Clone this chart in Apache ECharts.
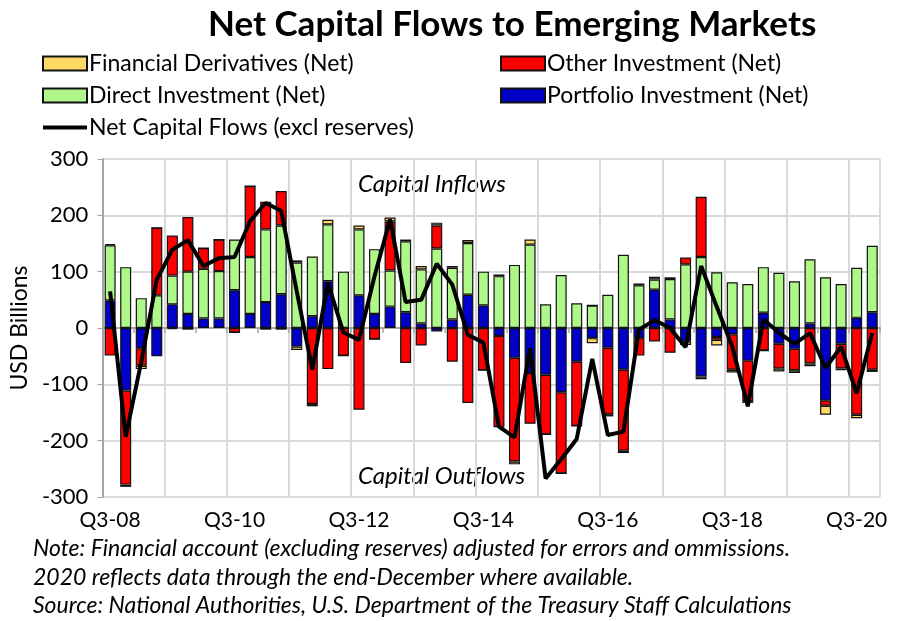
<!DOCTYPE html>
<html>
<head>
<meta charset="utf-8">
<script src="https://cdn.jsdelivr.net/npm/echarts@6/dist/echarts.min.js"></script>
<style>
  html, body { margin: 0; padding: 0; background: #fff; }
  #chart { width: 897px; height: 621px; }
</style>
</head>
<body>
<div id="chart"></div>
<script>
// quarters Q3-08 .. Q4-20
const quarters = []
for (let y = 8; y <= 20; y++) {
  for (let q = 1; q <= 4; q++) {
    if (y === 8 && q < 3) continue
    quarters.push('Q' + q + '-' + String(y).padStart(2, '0'))
  }
}

// USD billions
const portfolio = [49, -111, -36, -50, 42, 25, 17, 17, 67, 25, 46, 60, -33, 21, 83, 0, 58, 25, 38, 28,
  8, -6, 15, 59, 40, -14, -53, -80, -83, -114, -60, -18, -35, -74, -18, 68, 15, -24, -86, -16,
  -11, -58, 27, -28, -37, 8, -129, -28, 18, 28]
const direct = [98, 108, 53, 58, 51, 75, 88, 84, 90, 101, 129, 122, 116, 106, 101, 100, 117, 115, 64, 126,
  96, 141, 92, 92, 60, 92, 112, 148, 42, 94, 44, 40, 59, 130, 76, 18, 72, 113, 126, 99,
  81, 78, 81, 98, 83, 114, 90, 78, 89, 118]
const other = [-49, -167, -31, 120, 71, 97, 37, 56, -8, 126, 49, 61, 4, -135, -73, -49, -145, -20, 87, -62,
  -31, 41, -60, -133, -75, -162, -184, -90, -106, -144, -114, 0, -118, -144, -31, -24, -44, 12, 107, -5,
  -63, -72, -40, -44, -38, -63, -9, -44, -154, -74]
const derivatives = [2, -4, -6, 0, -2, -3, 0, 0, 0, 0, -3, -3, -6, -4, 8, 0, 7, 0, 7, 3,
  6, 5, 3, 5, 0, 3, -5, 9, 0, 0, 0, -9, -4, -4, 3, 5, 3, -6, -5, -10,
  -5, -3, 0, -5, -5, -5, -16, -3, -6, -4]
const netFlows = [65, -193, -60, 86, 139, 156, 110, 124, 126, 190, 222, 208, 65, -74, 80, -8, -21, 92, 193, 46,
  50, 114, 77, -12, -26, -175, -194, -36, -267, -233, -197, -55, -190, -184, -3, 14, 0, -34, 110, 38,
  -33, -139, 15, -8, -28, -9, -71, -33, -116, -9]
const yTicks = [-300, -200, -100, 0, 100, 200, 300]

const font = 'Lato, "Noto Sans", sans-serif'
const barBorder = { borderColor: '#111', borderWidth: 1.2 }

function barSeries(name, data, color) {
  return {
    name: name,
    type: 'bar',
    stack: 'total',
    data: data,
    barWidth: 11,
    itemStyle: Object.assign({ color: color }, barBorder)
  }
}

const legendText = { fontFamily: font, fontSize: 23, color: '#000', padding: [0, 0, 0, -3] }

const chart = echarts.init(document.getElementById('chart'))
chart.setOption({
  animation: false,
  textStyle: { fontFamily: font },
  title: {
    text: 'Net Capital Flows to Emerging Markets',
    left: 203,
    top: 2,
    textStyle: { fontFamily: font, fontSize: 35, fontWeight: 'bold', color: '#000' }
  },
  legend: [
    {
      orient: 'vertical',
      left: 36,
      top: 47,
      itemWidth: 44,
      itemHeight: 14,
      itemGap: 9,
      data: [
        { name: 'Financial Derivatives (Net)', icon: 'rect' },
        { name: 'Direct Investment (Net)', icon: 'rect' },
        { name: 'Net Capital Flows (excl reserves)', itemStyle: { opacity: 0 }, lineStyle: { width: 4, color: '#000' } }
      ],
      textStyle: legendText
    },
    {
      orient: 'vertical',
      left: 495,
      top: 47,
      itemWidth: 44,
      itemHeight: 14,
      itemGap: 9,
      data: [
        { name: 'Other Investment (Net)', icon: 'rect' },
        { name: 'Portfolio Investment (Net)', icon: 'rect' }
      ],
      textStyle: legendText
    }
  ],
  grid: { left: 101, right: 17, top: 159, bottom: 124 },
  xAxis: [
    {
      type: 'category',
      data: quarters,
      position: 'bottom',
      axisLine: { show: false, onZero: false },
      axisTick: { show: false },
      axisLabel: { interval: 7, margin: 13, fontSize: 21, color: '#000', fontFamily: font },
      splitLine: { show: true, interval: 3, lineStyle: { color: '#d9d9d9', width: 2 } }
    },
    {
      type: 'category',
      data: quarters,
      position: 'top',
      axisLine: { show: true, onZero: true, lineStyle: { color: '#a6a6a6', width: 2 } },
      axisTick: { show: true, inside: true, interval: 1, length: 5, lineStyle: { color: '#a6a6a6', width: 1.5 } },
      axisLabel: { show: false },
      splitLine: { show: false }
    }
  ],
  yAxis: {
    type: 'value',
    min: yTicks[0],
    max: yTicks[yTicks.length - 1],
    interval: 100,
    name: 'USD Billions',
    nameLocation: 'middle',
    nameGap: 66,
    nameTextStyle: { fontFamily: font, fontSize: 23, color: '#000' },
    axisLine: { show: true, lineStyle: { color: '#a6a6a6', width: 2 } },
    axisTick: { show: true, length: 5, lineStyle: { color: '#a6a6a6' } },
    axisLabel: { fontSize: 22, color: '#000', margin: 14, fontFamily: font },
    splitLine: { show: true, lineStyle: { color: '#d9d9d9', width: 2 } }
  },
  series: [
    barSeries('Portfolio Investment (Net)', portfolio, '#0000c8'),
    barSeries('Direct Investment (Net)', direct, '#b0f78a'),
    barSeries('Other Investment (Net)', other, '#ff0000'),
    barSeries('Financial Derivatives (Net)', derivatives, '#ffd966'),
    {
      name: 'Net Capital Flows (excl reserves)',
      type: 'line',
      data: netFlows,
      symbol: 'none',
      z: 5,
      lineStyle: { color: '#000', width: 4 },
      itemStyle: { color: '#000' }
    }
  ],
  graphic: [
    { type: 'text', left: 358, top: 172, style: { text: 'Capital Inflows', font: 'italic 24px ' + font, fill: '#000' } },
    { type: 'text', left: 358, top: 464, style: { text: 'Capital Outflows', font: 'italic 24px ' + font, fill: '#000' } },
    { type: 'text', left: 33, top: 537, style: { text: 'Note: Financial account (excluding reserves) adjusted for errors and ommissions.', font: 'italic 23px ' + font, fill: '#000' } },
    { type: 'text', left: 33, top: 566, style: { text: '2020 reflects data through the end-December where available.', font: 'italic 23px ' + font, fill: '#000' } },
    { type: 'text', left: 33, top: 594, style: { text: 'Source: National Authorities, U.S. Department of the Treasury Staff Calculations', font: 'italic 23px ' + font, fill: '#000' } }
  ]
})
window.addEventListener('resize', function() {
  chart.resize()
})
</script>
</body>
</html>
